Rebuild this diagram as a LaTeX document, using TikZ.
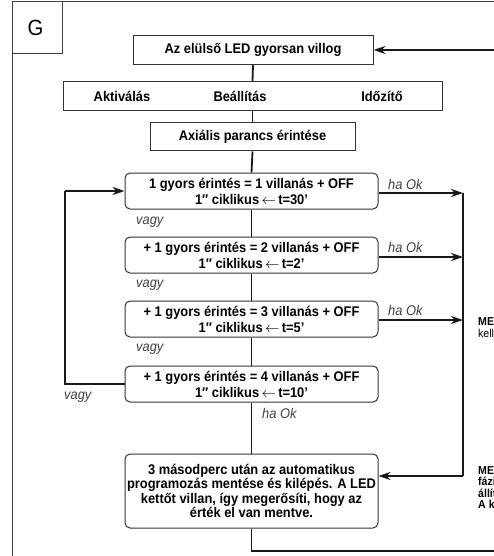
\documentclass[tikz,border=0pt]{standalone}
\usepackage{fontspec}
\setmainfont{Liberation Sans}[FakeStretch=0.92]
\usetikzlibrary{arrows.meta}
\newcommand{\cyclearrow}{\,$\leftarrow$\,}

\begin{document}
\begin{tikzpicture}[x=1pt,y=-1pt,
  frame/.style={draw=black!75, line width=0.9pt},
  boxfont/.style={font=\fontsize{14}{16}\selectfont\bfseries},
  box/.style={draw=black!80, line width=1pt, fill=white, boxfont,
    align=center, inner sep=0pt},
  flatbox/.style={box, minimum height=29pt},
  stepbox/.style={box, rounded corners=5pt, minimum width=253pt, minimum height=36pt},
  link/.style={line width=1.8pt, draw=black!90},
  arr/.style={link, -{Stealth[length=12pt,width=8pt]}},
  note/.style={font=\fontsize{14}{15}\selectfont\itshape, text=black!75, inner sep=0pt, anchor=west},
  side/.style={font=\fontsize{11.5}{12}\selectfont\bfseries, inner sep=0pt, anchor=west},
]
\useasboundingbox (0,0) rectangle (493,556);

% page frame and section letter
\draw[frame] (12,557) -- (12,1) -- (494,1);
\draw[frame] (12,53) -| (62,1);
\node[font=\fontsize{22}{24}\selectfont] (G) at (35.5,28) {G};

% main flow boxes
\node[flatbox, minimum width=240pt] (top) at (253,50) {Az elülső LED gyorsan villog};
\node[flatbox, minimum width=379pt] (row) at (252.5,96.5) {};
\node[boxfont] (akt) at (122,96.5) {Aktiválás};
\node[boxfont] (beal) at (240,96.5) {Beállítás};
\node[boxfont] (idoz) at (382,96.5) {Időzítő};
\node[flatbox, minimum width=205pt, minimum height=28pt] (ax) at (252.5,137) {Axiális parancs érintése};

\node[stepbox] (s1) at (251.5,191) {1 gyors érintés = 1 villanás + OFF\\1″ ciklikus\cyclearrow t=30’};
\node[stepbox] (s2) at (251.5,255) {+ 1 gyors érintés = 2 villanás + OFF\\1″ ciklikus\cyclearrow t=2’};
\node[stepbox] (s3) at (251.5,319) {+ 1 gyors érintés = 3 villanás + OFF\\1″ ciklikus\cyclearrow t=5’};
\node[stepbox] (s4) at (251.5,384) {+ 1 gyors érintés = 4 villanás + OFF\\1″ ciklikus\cyclearrow t=10’};
\node[stepbox, minimum height=74pt, font=\fontsize{14}{14.5}\selectfont\bfseries] (fin) at (251.5,491)
  {3 másodperc után az automatikus\\programozás mentése és kilépés. A LED\\kettőt villan, így megerősíti, hogy az\\érték el van mentve.};

% vertical spine
\draw[link] (top.south) -- (row.north);
\draw[link] (row.south) -- (ax.north);
\draw[link] (ax.south) -- (s1.north);
\draw[link] (s1.south) -- (s2.north);
\draw[link] (s2.south) -- (s3.north);
\draw[link] (s3.south) -- (s4.north);
\draw[link] (s4.south) -- (fin.north);

% return path back to the top box
\coordinate (rb) at (495,551);
\coordinate (rt) at (495,50);
\draw[link] (fin.south) -- (fin.south |- rb) -- (rb);
\draw[arr] (rt) -- (top.east);

% "ha Ok" branches to the collector line
\coordinate (c1) at (463,193);
\coordinate (c2) at (463,257);
\coordinate (c3) at (463,320);
\coordinate (cb) at (463,476);
\draw[arr] (s1.east |- c1) -- (c1);
\draw[arr] (s2.east |- c2) -- (c2);
\draw[arr] (s3.east |- c3) -- (c3);
\draw[link] (c1) -- (cb);
\draw[arr] (cb) -- (fin.east |- cb);

% loop back from the last step to the first
\coordinate (l1) at (65,384);
\coordinate (l2) at (65,191);
\draw[link] (s4.west) -- (l1) -- (l2);
\draw[arr] (l2) -- (s1.west);

% labels
\node[note] (v1) at (136,222) {vagy};
\node[note] (v2) at (136,285) {vagy};
\node[note] (v3) at (136,349) {vagy};
\node[note] (v4) at (64,397) {vagy};
\node[note] (h1) at (388,184) {ha Ok};
\node[note] (h2) at (388,247) {ha Ok};
\node[note] (h3) at (388,310) {ha Ok};
\node[note] (h4) at (262,413) {ha Ok};

% side notes running past the page edge
\begin{scope}
\clip (0,0) rectangle (493,556);
\node[side] (m1) at (478,320) {MEGJEGYZÉS};
\node[side, font=\fontsize{11.5}{12}\selectfont] (m2) at (478,333) {kell};
\node[side] (n1) at (478,469) {MEGJEGYZÉS};
\node[side] (n2) at (478,481) {fázis};
\node[side] (n3) at (478,493) {állítás};
\node[side] (n4) at (478,505) {A kilépés};
\end{scope}
\end{tikzpicture}
\end{document}
